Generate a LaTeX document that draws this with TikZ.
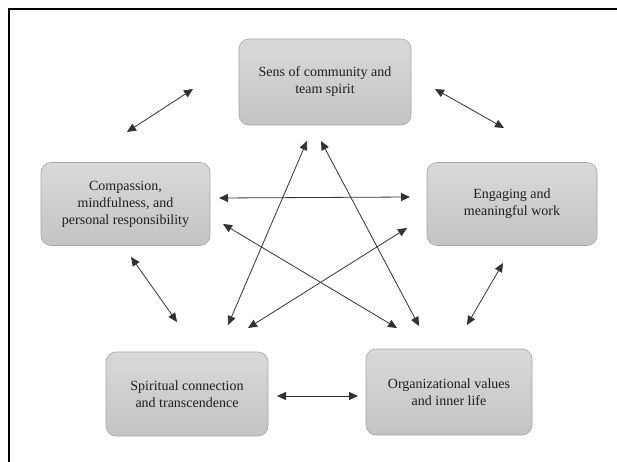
\documentclass[tikz,border=0pt]{standalone}
\usepackage{fontspec}
\setmainfont{Liberation Serif}
\usetikzlibrary{arrows.meta}
\definecolor{boxtop}{RGB}{217,217,217}
\definecolor{boxbot}{RGB}{196,196,196}
\definecolor{boxline}{RGB}{165,165,165}
\definecolor{arrowcol}{RGB}{50,50,50}
\definecolor{textcol}{RGB}{30,30,30}
\tikzset{
  stagebox/.style={rectangle, rounded corners=10pt, draw=boxline, line width=0.6pt,
    top color=boxtop, bottom color=boxbot, align=center, text=textcol,
    font=\fontsize{14}{17}\selectfont, inner sep=0pt},
  biarrow/.style={draw=arrowcol, line width=0.8pt,
    {Triangle[length=9pt,width=8pt]}-{Triangle[length=9pt,width=8pt]}},
  frameline/.style={line width=2pt, black}
}
\begin{document}
\begin{tikzpicture}[x=1pt,y=-1pt]
\useasboundingbox (0,0) rectangle (617,462);
\coordinate (fb) at (9,462);
\coordinate (fc) at (9,9);
\coordinate (fr) at (617,9);
\draw[frameline] (fb) -- (fc) -- (fr);

\node[stagebox, minimum width=172pt, minimum height=86pt] (top) at (325,82) {Sens of community and\\team spirit};
\node[stagebox, minimum width=169pt, minimum height=83pt] (left) at (125.5,204) {Compassion,\\mindfulness, and\\personal responsibility};
\node[stagebox, minimum width=170pt, minimum height=83pt] (right) at (512,204) {Engaging and\\meaningful work};
\node[stagebox, minimum width=162pt, minimum height=84pt] (spir) at (187,394) {Spiritual connection\\and transcendence};
\node[stagebox, minimum width=166pt, minimum height=86pt] (org) at (449,392) {Organizational values\\and inner life};

% arrow end points
\coordinate (lt1) at (127,132);  \coordinate (lt2) at (193,89);
\coordinate (tr1) at (435,89);   \coordinate (tr2) at (504,128);
\coordinate (lr1) at (219,198);  \coordinate (lr2) at (410,197);
\coordinate (lo1) at (223,224);  \coordinate (lo2) at (397,328);
\coordinate (ts1) at (307,141);  \coordinate (ts2) at (228,325);
\coordinate (to1) at (321,141);  \coordinate (to2) at (419,326);
\coordinate (rs1) at (407,228);  \coordinate (rs2) at (248,328);
\coordinate (ro1) at (503,263);  \coordinate (ro2) at (467,325);
\coordinate (ls1) at (131,257);  \coordinate (ls2) at (177,322);
\coordinate (so1) at (277,396);  \coordinate (so2) at (358,396);

\draw[biarrow] (lt1) -- (lt2);
\draw[biarrow] (tr1) -- (tr2);
\draw[biarrow] (lr1) -- (lr2);
\draw[biarrow] (lo1) -- (lo2);
\draw[biarrow] (ts1) -- (ts2);
\draw[biarrow] (to1) -- (to2);
\draw[biarrow] (rs1) -- (rs2);
\draw[biarrow] (ro1) -- (ro2);
\draw[biarrow] (ls1) -- (ls2);
\draw[biarrow] (so1) -- (so2);
\end{tikzpicture}
\end{document}
